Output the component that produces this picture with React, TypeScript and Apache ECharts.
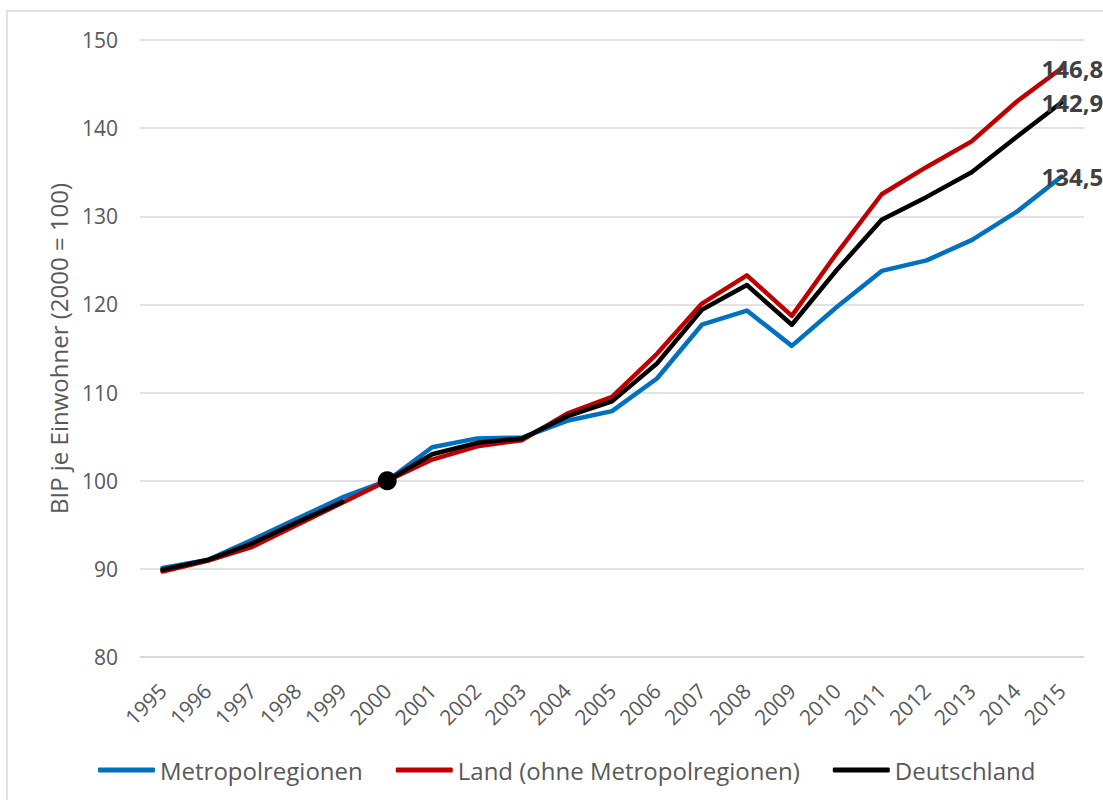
import React, { useEffect, useRef } from "react";
import * as echarts from "echarts";

const years = ["1995","1996","1997","1998","1999","2000","2001","2002","2003","2004","2005","2006","2007","2008","2009","2010","2011","2012","2013","2014","2015"];
const metro = [90.1, 91.0, 93.3, 95.7, 98.1, 100, 103.8, 104.8, 104.9, 106.8, 107.9, 111.6, 117.7, 119.3, 115.3, 119.7, 123.8, 125.0, 127.3, 130.5, 134.5];
const land = [89.7, 90.9, 92.5, 95.0, 97.5, 100, 102.4, 103.9, 104.6, 107.6, 109.5, 114.4, 120.1, 123.3, 118.7, 125.8, 132.5, 135.6, 138.5, 143.0, 146.8];
const deutschland = [89.9, 91.0, 92.9, 95.3, 97.6, 100, 103.0, 104.3, 104.8, 107.3, 109.0, 113.3, 119.4, 122.2, 117.7, 123.9, 129.6, 132.2, 135.0, 139.0, 142.9];
const baseYearIndex = 5;
const seriesNames = ["Metropolregionen", "Land (ohne Metropolregionen)", "Deutschland"];
const yTicks = { min: 80, max: 150, interval: 10 };

const FONT = "'Open Sans', 'Noto Sans', sans-serif";
const fmt = (v: number) => v.toFixed(1).replace(".", ",");

export default function App() {
  const ref = useRef<HTMLDivElement>(null);
  useEffect(() => {
    if (!ref.current) return;
    const chart = echarts.init(ref.current, null, { renderer: "svg" });
    const endLabel = {
      show: true,
      formatter: (p: any) => fmt(p.value as number),
      fontFamily: FONT,
      fontSize: 24,
      fontWeight: "bold",
      color: "#404040",
      distance: 0,
      offset: [-20, 0],
    };
    const line = (name: string, data: (number | null)[], color: string, extra: any = {}) => ({
      type: "line",
      name,
      data,
      showSymbol: false,
      symbol: "none",
      color,
      lineStyle: { width: 4.5, color, cap: "round", join: "round" },
      emphasis: { disabled: true },
      ...extra,
    });
    const deFirst = deutschland.map((v, i) => (i < baseYearIndex ? v : null));
    const deSecond = deutschland.map((v, i) => (i >= baseYearIndex ? v : null));
    chart.setOption({
      animation: false,
      graphic: [
        {
          type: "rect",
          shape: { x: 7, y: 11, width: 1200, height: 900 },
          style: { fill: "none", stroke: "#d9d9d9", lineWidth: 1.5 },
          silent: true,
        },
      ],
      grid: { left: 140, right: 19, top: 40, bottom: 143 },
      legend: {
        data: seriesNames,
        left: 93,
        top: 750,
        icon: "roundRect",
        itemWidth: 57,
        itemHeight: 5,
        itemGap: 33,
        textStyle: { fontFamily: FONT, fontSize: 24, color: "#595959", lineHeight: 30 },
      },
      xAxis: {
        type: "category",
        data: years,
        boundaryGap: true,
        axisLine: { lineStyle: { color: "#d9d9d9", width: 1.5 } },
        axisTick: { show: false },
        axisLabel: {
          rotate: 45,
          interval: 0,
          margin: 30,
          fontFamily: FONT,
          fontSize: 21,
          color: "#595959",
        },
      },
      yAxis: {
        type: "value",
        min: yTicks.min,
        max: yTicks.max,
        interval: yTicks.interval,
        name: "BIP je Einwohner (2000 = 100)",
        nameLocation: "middle",
        nameRotate: 90,
        nameGap: 70,
        nameTextStyle: { fontFamily: FONT, fontSize: 24, color: "#595959" },
        axisLine: { show: false },
        axisTick: { show: false },
        splitLine: { lineStyle: { color: "#d9d9d9", width: 1.5 } },
        axisLabel: { fontFamily: FONT, fontSize: 21, color: "#595959", margin: 22 },
      },
      series: [
        line(seriesNames[0], metro, "#0070C0", { endLabel }),
        line(seriesNames[1], land, "#C00000", { endLabel }),
        line(seriesNames[2], deFirst, "#000000"),
        line(seriesNames[2] + " ", deSecond, "#000000", {
          endLabel,
          showSymbol: true,
          symbol: "circle",
          symbolSize: (v: any, p: any) => (p.dataIndex === baseYearIndex ? 19 : 0),
          itemStyle: { color: "#000000" },
        }),
      ],
    });
    return () => chart.dispose();
  }, []);
  return (
    <div
      ref={ref}
      style={{ position: "fixed", left: 0, top: 0, width: 1103, height: 800, background: "#fff" }}
    />
  );
}
